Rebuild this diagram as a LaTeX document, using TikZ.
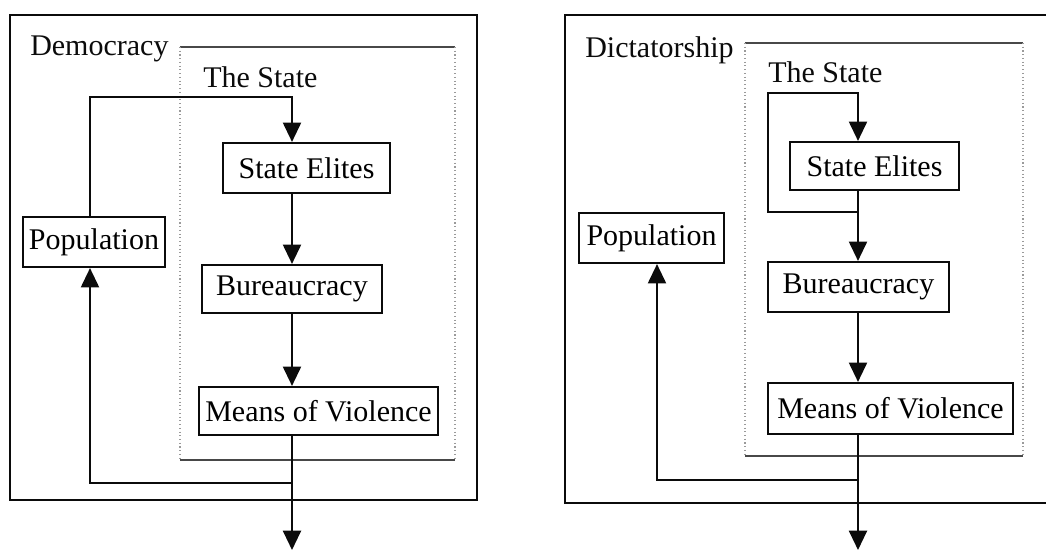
\documentclass[tikz,border=0pt]{standalone}
\usepackage{fontspec}
\setmainfont{Liberation Serif}
\usetikzlibrary{arrows.meta,calc,positioning}
\definecolor{tinta}{HTML}{0B0B0B}
\definecolor{tenue}{HTML}{9A9A9A}
\tikzset{
  caja/.style={draw=tinta,fill=white,line width=1.6pt,inner sep=0pt,font=\fontsize{22.5pt}{26pt}\selectfont},
  rotulo/.style={inner sep=0pt,anchor=base west,font=\fontsize{22.5pt}{26pt}\selectfont,text=tinta},
  marco/.style={draw=tinta,line width=1.6pt},
  borde/.style={draw=tinta!75,line width=0.9pt},
  lado/.style={draw=tenue,line width=0.8pt,dotted},
  flecha/.style={draw=tinta,line width=1.6pt,-{Triangle[length=14.5pt,width=13.5pt]}},
}
\begin{document}
\begin{tikzpicture}[x=0.75pt,y=-0.75pt]
\useasboundingbox (0,0) rectangle (1046,550);
% democracy
\draw[marco] (10,15) rectangle (477,500);
\draw[borde] (180,47) -- (455,47);
\draw[borde] (180,460) -- (455,460);
\draw[lado] (180,47) -- (180,460);
\draw[lado] (455,47) -- (455,460);
\node[rotulo] at (30,55) {Democracy};
\node[rotulo] at (203,87) {The State};
\coordinate (eje1) at (292,0);
\coordinate (arr1) at (90,97);
\coordinate (ret1) at (90,483);
\coordinate (sal1) at (292,550);
\node[caja,minimum width=106.5pt,minimum height=37.5pt] (pob1) at (94,242) {Population};
\node[caja,minimum width=125.25pt,minimum height=37.5pt] (eli1) at (306.5,168) {State Elites};
\node[caja,minimum width=135pt,minimum height=36pt] (bur1) at (292,289) {Bureaucracy};
\node[caja,minimum width=179.25pt,minimum height=36pt] (vio1) at (318.5,411) {Means of Violence};
\draw[flecha] (arr1 |- pob1.north) -- (arr1) -- (eje1 |- arr1) -- (eje1 |- eli1.north);
\draw[flecha] (eje1 |- eli1.south) -- (eje1 |- bur1.north);
\draw[flecha] (eje1 |- bur1.south) -- (eje1 |- vio1.north);
\draw[flecha] (eje1 |- vio1.south) -- (sal1);
\draw[flecha] (eje1 |- ret1) -- (ret1) -- (ret1 |- pob1.south);
% dictatorship
\draw[marco] (1046,15) -- (565,15) -- (565,503) -- (1046,503);
\draw[borde] (745,43) -- (1023,43);
\draw[borde] (745,456) -- (1023,456);
\draw[lado] (745,43) -- (745,456);
\draw[lado] (1023,43) -- (1023,456);
\node[rotulo] at (585,57) {Dictatorship};
\node[rotulo] at (768,82) {The State};
\coordinate (eje2) at (858,0);
\coordinate (arr2) at (768,93);
\coordinate (giro2) at (768,212);
\coordinate (ret2) at (657,480);
\coordinate (sal2) at (858,550);
\node[caja,minimum width=108.75pt,minimum height=37.5pt] (pob2) at (651.5,238) {Population};
\node[caja,minimum width=126.75pt,minimum height=36pt] (eli2) at (874.5,166) {State Elites};
\node[caja,minimum width=135.75pt,minimum height=37.5pt] (bur2) at (858.5,287) {Bureaucracy};
\node[caja,minimum width=183.75pt,minimum height=38.25pt] (vio2) at (890.5,408.5) {Means of Violence};
\draw[flecha] (eje2 |- giro2) -- (giro2) -- (arr2) -- (eje2 |- arr2) -- (eje2 |- eli2.north);
\draw[flecha] (eje2 |- eli2.south) -- (eje2 |- bur2.north);
\draw[flecha] (eje2 |- bur2.south) -- (eje2 |- vio2.north);
\draw[flecha] (eje2 |- vio2.south) -- (sal2);
\draw[flecha] (eje2 |- ret2) -- (ret2) -- (ret2 |- pob2.south);
\end{tikzpicture}
\end{document}
